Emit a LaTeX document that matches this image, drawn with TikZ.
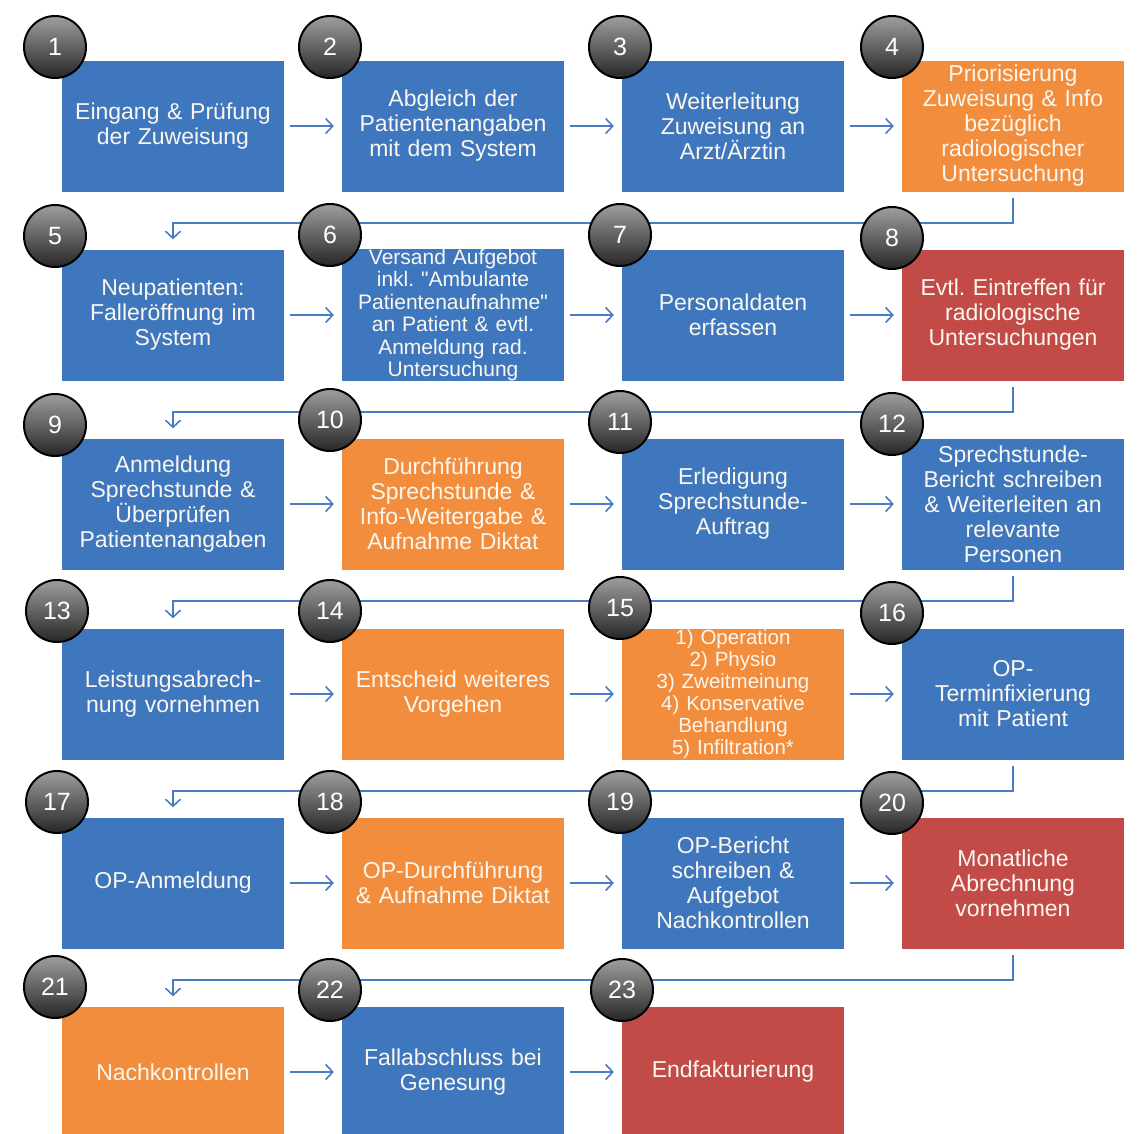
\documentclass[tikz,border=0pt]{standalone}
\usepackage{fontspec}
\setmainfont{Liberation Sans}
\frenchspacing
\usetikzlibrary{arrows.meta}
\definecolor{bxblue}{HTML}{3F77BF}
\definecolor{bxorange}{HTML}{F28D3D}
\definecolor{bxred}{HTML}{C24B48}
\definecolor{lnblue}{HTML}{4A7CC4}
\definecolor{txt}{HTML}{FBF7EF}
\tikzset{
  box/.style={minimum width=222pt, minimum height=131pt, inner sep=0pt, text width=218pt, align=center,
    text=txt, font=\fontsize{23}{25}\selectfont},
  bblue/.style={box, fill=bxblue},
  borange/.style={box, fill=bxorange},
  bred/.style={box, fill=bxred},
  numc/.style={circle, minimum size=62pt, inner sep=0pt, draw=black, line width=2pt,
    top color=black!38, bottom color=black!85, text=white, font=\fontsize{25}{25}\selectfont},
  arr/.style={draw=lnblue, line width=1.6pt, -{Straight Barb[length=7pt,width=15pt]}},
  harr/.style={arr, shorten <=6pt, shorten >=8pt},
  varr/.style={arr, shorten <=6pt, shorten >=10pt}
}
\begin{document}
\begin{tikzpicture}[x=1pt,y=-1pt]
\useasboundingbox[fill=white] (0,0) rectangle (1141,1133);
% boxes
\node[bblue]   (b1)  at (173,126) {Eingang \& Prüfung\\der Zuweisung};
\node[bblue]   (b2)  at (453,126) {Abgleich der\\Patientenangaben\\mit dem System};
\node[bblue]   (b3)  at (733,126) {Weiterleitung\\Zuweisung an\\Arzt/Ärztin};
\node[borange] (b4)  at (1013,126) {Priorisierung\\Zuweisung \& Info\\bezüglich\\radiologischer\\Untersuchung};
\node[bblue]   (b5)  at (173,315) {Neupatienten:\\Falleröffnung im\\System};
\node[bblue, font=\fontsize{21}{22.5}\selectfont] (b6) at (453,315) {Versand Aufgebot\\inkl. \textquotedbl Ambulante\\Patientenaufnahme\textquotedbl\\an Patient \& evtl.\\Anmeldung rad.\\Untersuchung};
\node[bblue]   (b7)  at (733,315) {Personaldaten\\erfassen};
\node[bred]    (b8)  at (1013,315) {Evtl. Eintreffen für\\radiologische\\Untersuchungen};
\node[bblue]   (b9)  at (173,504) {Anmeldung\\Sprechstunde \&\\Überprüfen\\Patientenangaben};
\node[borange] (b10) at (453,504) {Durchführung\\Sprechstunde \&\\Info-Weitergabe \&\\Aufnahme Diktat};
\node[bblue]   (b11) at (733,504) {Erledigung\\Sprechstunde-\\Auftrag};
\node[bblue]   (b12) at (1013,504) {Sprechstunde-\\Bericht schreiben\\\& Weiterleiten an\\relevante\\Personen};
\node[bblue]   (b13) at (173,694) {Leistungsabrech-\\nung vornehmen};
\node[borange] (b14) at (453,694) {Entscheid weiteres\\Vorgehen};
\node[borange, font=\fontsize{20.5}{22}\selectfont] (b15) at (733,694) {1) Operation\\2) Physio\\3) Zweitmeinung\\4) Konservative\\Behandlung\\5) Infiltration*};
\node[bblue]   (b16) at (1013,694) {OP-\\Terminfixierung\\mit Patient};
\node[bblue]   (b17) at (173,883) {OP-Anmeldung};
\node[borange] (b18) at (453,883) {OP-Durchführung\\\& Aufnahme Diktat};
\node[bblue]   (b19) at (733,883) {OP-Bericht\\schreiben \&\\Aufgebot\\Nachkontrollen};
\node[bred]    (b20) at (1013,883) {Monatliche\\Abrechnung\\vornehmen};
\node[borange] (b21) at (173,1072) {Nachkontrollen};
\node[bblue]   (b22) at (453,1072) {Fallabschluss bei\\Genesung};
\node[bred]    (b23) at (733,1072) {Endfakturierung};
% horizontal connectors
\foreach \a/\b in {b1/b2,b2/b3,b3/b4,b5/b6,b6/b7,b7/b8,b9/b10,b10/b11,b11/b12,
  b13/b14,b14/b15,b15/b16,b17/b18,b18/b19,b19/b20,b21/b22,b22/b23}
  \draw[harr] (\a) -- (\b);
% return connectors
\foreach \a/\b in {b4/b5,b8/b9,b12/b13,b16/b17,b20/b21}
  \draw[varr] (\a.south) -- ++(0,31) -| (\b.north);
% number circles
\node[numc] (c1)  at (55,47)   {1};
\node[numc] (c2)  at (330,47)  {2};
\node[numc] (c3)  at (620,47)  {3};
\node[numc] (c4)  at (892,47)  {4};
\node[numc] (c5)  at (55,236)  {5};
\node[numc] (c6)  at (330,235) {6};
\node[numc] (c7)  at (620,235) {7};
\node[numc] (c8)  at (892,238) {8};
\node[numc] (c9)  at (55,425)  {9};
\node[numc] (c10) at (330,420) {10};
\node[numc] (c11) at (620,422) {11};
\node[numc] (c12) at (892,424) {12};
\node[numc] (c13) at (57,611)  {13};
\node[numc] (c14) at (330,611) {14};
\node[numc] (c15) at (620,608) {15};
\node[numc] (c16) at (892,613) {16};
\node[numc] (c17) at (57,802)  {17};
\node[numc] (c18) at (330,802) {18};
\node[numc] (c19) at (620,802) {19};
\node[numc] (c20) at (892,803) {20};
\node[numc] (c21) at (55,987)  {21};
\node[numc] (c22) at (330,990) {22};
\node[numc] (c23) at (622,990) {23};
\end{tikzpicture}
\end{document}
